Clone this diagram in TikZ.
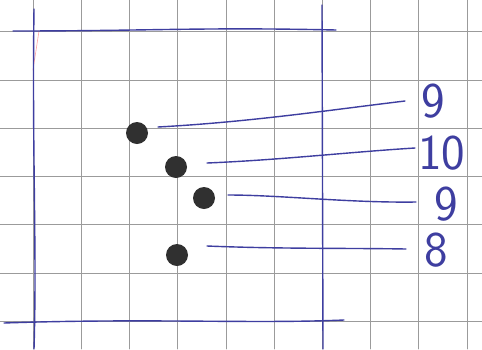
\documentclass[tikz,border=0pt]{standalone}
\usepackage{tikz}
\usetikzlibrary{positioning}

\definecolor{inkblue}{RGB}{62,62,160}
\definecolor{gridgray}{RGB}{155,155,155}
\definecolor{dotblack}{RGB}{48,48,48}

\begin{document}
\begin{tikzpicture}[x=1pt, y=-1pt, line cap=round,
    ink/.style={draw=inkblue, line width=1.4pt},
    bead/.style={circle, fill=dotblack, inner sep=0pt, minimum size=22pt},
    numlbl/.style={text=inkblue, inner sep=0pt, font=\sffamily\fontsize{50}{50}\selectfont}]
            \useasboundingbox (0,0) rectangle (482,349);
            \fill[white] (0,0) rectangle (482,349);
            % squared paper
            \foreach \i in {0,...,9}
                \draw[gridgray, line width=0.6pt] (33+48.2*\i,0) -- (33+48.2*\i,349);
            \foreach \j in {0,...,6}
                \draw[gridgray, line width=0.6pt] (0,31.5+48.3*\j) -- (482,31.5+48.3*\j);
            % frame
            \draw[red!60, line width=0.6pt, opacity=0.6] (39,31) -- (33,70);
            \draw[ink] (34,9) .. controls (32,150) and (37,250) .. (34,349);
            \draw[ink] (322,5) -- (323,349);
            \draw[ink] (13,31) .. controls (150,31) and (200,27) .. (336,30);
            \draw[ink] (4,323) .. controls (150,318) and (250,324) .. (344,320);
            % beads
            \node[bead] (b1) at (137,133) {};
            \node[bead] (b2) at (176,167) {};
            \node[bead] (b3) at (204,198) {};
            \node[bead] (b4) at (177,255) {};
            % leader lines and counts
            \coordinate (s1) at (158,127);
            \coordinate (e1) at (405,101);
            \coordinate (s2) at (207,163);
            \coordinate (e2) at (415,148);
            \coordinate (s3) at (228,195);
            \coordinate (e3) at (416,202);
            \coordinate (s4) at (207,246);
            \coordinate (e4) at (406,249);
            \node[numlbl, right=16pt of e1] (n1) {9};
            \node[numlbl, right=3pt of e2, yshift=-5pt] (n2) {10};
            \node[numlbl, right=18pt of e3, yshift=-2pt] (n3) {9};
            \node[numlbl, right=18pt of e4, yshift=-1pt] (n4) {8};
            \draw[ink] (s1) .. controls (250,122) and (330,110) .. (e1);
            \draw[ink] (s2) .. controls (280,160) and (350,152) .. (e2);
            \draw[ink] (s3) .. controls (280,195) and (350,203) .. (e3);
            \draw[ink] (s4) .. controls (280,249) and (350,248) .. (e4);
        \end{tikzpicture}
\end{document}
